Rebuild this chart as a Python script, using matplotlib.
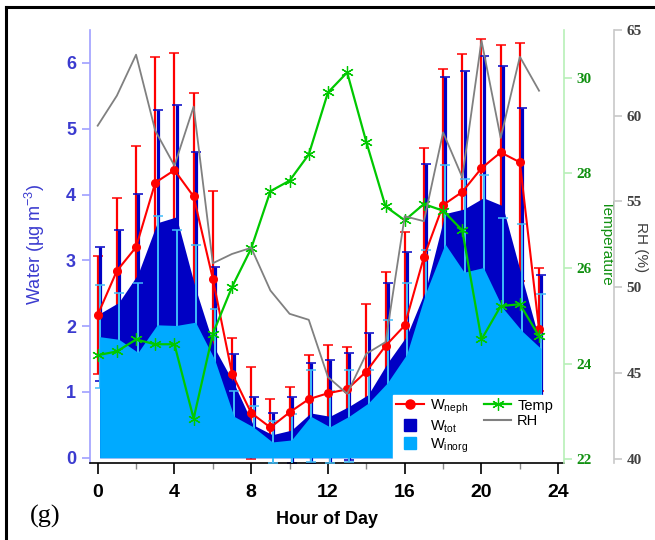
import numpy as np
import matplotlib
matplotlib.use("Agg")
import matplotlib.pyplot as plt
from matplotlib.lines import Line2D

hours = np.arange(24)

w_neph = [2.17, 2.84, 3.20, 4.18, 4.37, 3.97, 2.72, 1.28, 0.68, 0.46, 0.69, 0.89,
          0.98, 1.04, 1.31, 1.70, 2.01, 3.05, 3.84, 4.04, 4.40, 4.64, 4.49, 1.95]
w_neph_err = [0.90, 1.11, 1.54, 1.91, 1.78, 1.58, 1.33, 0.54, 0.70, 0.43, 0.39, 0.67,
              0.73, 0.65, 1.03, 1.12, 1.42, 1.66, 2.06, 2.10, 1.97, 1.63, 1.81, 0.93]
w_tot = [2.19, 2.36, 2.79, 3.57, 3.66, 2.57, 1.66, 1.13, 0.50, 0.35, 0.42, 0.68,
         0.63, 0.78, 0.96, 1.44, 1.85, 2.56, 3.71, 3.78, 3.95, 3.83, 2.75, 1.70]
w_tot_err = [1.02, 1.10, 1.22, 1.71, 1.70, 2.08, 1.24, 0.44, 0.42, 0.33, 0.50, 0.76,
             0.86, 0.81, 0.94, 1.22, 1.28, 1.90, 2.07, 2.09, 2.15, 2.12, 2.57, 1.08]
w_inorg = [1.84, 1.80, 1.60, 2.02, 2.01, 2.06, 1.49, 0.63, 0.47, 0.24, 0.27, 0.63,
           0.47, 0.63, 0.83, 1.14, 1.57, 2.51, 3.25, 2.82, 2.89, 2.28, 1.93, 1.66]
w_inorg_err = [0.78, 0.71, 1.06, 1.65, 1.45, 1.17, 0.77, 0.39, 0.32, 0.32, 0.40, 0.70,
               0.55, 0.70, 0.50, 0.96, 1.08, 0.65, 1.20, 1.41, 1.40, 1.36, 1.62, 0.83]
temp = [24.18, 24.26, 24.51, 24.41, 24.41, 22.85, 24.63, 25.61, 26.42, 27.62, 27.84, 28.39,
        29.69, 30.11, 28.65, 27.30, 27.01, 27.35, 27.21, 26.80, 24.51, 25.21, 25.25, 24.58]
rh = [59.42, 61.17, 63.56, 59.13, 57.09, 60.53, 51.40, 51.94, 52.30, 49.81, 48.45, 48.10,
      44.76, 43.79, 46.12, 46.80, 54.14, 53.85, 59.03, 56.41, 64.38, 58.71, 63.44, 61.46]

RED = "#FF0000"
DARK = "#0000C4"
LIGHT = "#00AAFF"
CYAN = "#40BDF8"
GREEN = "#00C800"
GRAY = "#808080"

fig = plt.figure(figsize=(6.55, 5.4), dpi=100)
W, H = 655, 540
ax_l, ax_r, ax_t, ax_b = 90, 564, 30, 463
ax = fig.add_axes([ax_l / W, 1 - ax_b / H, (ax_r - ax_l) / W, (ax_b - ax_t) / H])
ax2 = ax.twinx()
ax3 = ax.twinx()

off = 0.1
bar_off = 0.12
ax.errorbar(hours, w_neph, yerr=w_neph_err, fmt="none", ecolor=RED,
            elinewidth=1.6, capsize=3.3, capthick=1.1, zorder=1)
ax.errorbar(hours + bar_off, w_tot, yerr=w_tot_err, fmt="none", ecolor=DARK,
            elinewidth=2.3, capsize=3.3, capthick=1.1, zorder=1.5)
ax.fill_between(hours + off, 0, w_tot, color=DARK, lw=0, zorder=2)
ax.errorbar(hours + bar_off, w_inorg, yerr=w_inorg_err, fmt="none", ecolor=CYAN,
            elinewidth=1.4, capsize=3.3, capthick=1.1, zorder=3)
ax.fill_between(hours + off, 0, w_inorg, color=LIGHT, lw=0, zorder=4)
ax.plot(hours, w_neph, color=RED, lw=1.5, marker="o", ms=5.5, zorder=6)

ax2.plot(hours, temp, color=GREEN, lw=1.6, marker=(6, 2, 0), ms=9, mew=0.9, zorder=5)
ax3.plot(hours, rh, color=GRAY, lw=1.3, zorder=5)

ax.set_xlim(-0.4, 24.3)
ax.set_ylim(-0.08, 6.5)
ax2.set_ylim(21.92, 31.0)
ax3.set_ylim(39.75, 65.0)

# spines
for a in (ax, ax2, ax3):
    a.spines["top"].set_visible(False)
ax.spines["right"].set_visible(False)
ax2.spines["left"].set_visible(False)
ax3.spines["left"].set_visible(False)
ax2.spines["bottom"].set_visible(False)
ax3.spines["bottom"].set_visible(False)
ax.spines["left"].set_color("#A0A0FF")
ax.spines["bottom"].set_color("black")
ax2.spines["right"].set_color("#B8F0B8")
ax3.spines["right"].set_color("#C8C8C8")
ax3.spines["right"].set_position(("axes", (614 - ax_l) / (ax_r - ax_l)))
for a in (ax, ax2, ax3):
    for s in a.spines.values():
        s.set_linewidth(1.2)

narrow = ["Liberation Sans Narrow", "Liberation Sans", "DejaVu Sans"]
sans = ["Liberation Sans", "DejaVu Sans"]
serif = ["Liberation Serif", "DejaVu Serif"]

ax.set_xticks(np.arange(0, 25, 4))
ax.set_xticks(np.arange(2, 25, 4), minor=True)
ax.tick_params(axis="x", which="major", length=8, width=1.2, color="black", pad=7)
ax.tick_params(axis="x", which="minor", length=4, width=1.0, color="#888888")
for lab in ax.get_xticklabels():
    lab.set_fontfamily(narrow)
    lab.set_fontweight("bold")
    lab.set_fontsize(14)

ax.set_yticks(np.arange(0, 7, 1))
ax.tick_params(axis="y", length=6, width=1.2, color="#A0A0FF", labelcolor="#3B3BCF", pad=4)
for lab in ax.get_yticklabels():
    lab.set_fontfamily(sans)
    lab.set_fontweight("bold")
    lab.set_fontsize(13)

ax2.set_yticks(np.arange(22, 31, 2))
ax2.tick_params(axis="y", length=6, width=1.2, color="#B8F0B8", labelcolor="#109010", pad=3)
for lab in ax2.get_yticklabels():
    lab.set_fontfamily(serif)
    lab.set_fontweight("bold")
    lab.set_fontsize(11)

ax3.set_yticks(np.arange(40, 66, 5))
ax3.tick_params(axis="y", length=6, width=1.2, color="#C8C8C8", labelcolor="#404040", pad=3)
for lab in ax3.get_yticklabels():
    lab.set_fontfamily(serif)
    lab.set_fontweight("bold")
    lab.set_fontsize(11)

ax.set_ylabel("Water (µg m$^{\\mathregular{-3}}$)", color="#3B3BCF", fontsize=13,
              fontfamily=sans)
ax.yaxis.set_label_coords((47 - ax_l) / (ax_r - ax_l), (ax_b - 244) / (ax_b - ax_t))
ax2.set_ylabel("Temperature", color="#109010", fontsize=11, rotation=270,
               fontfamily=sans, va="center")
ax2.yaxis.set_label_coords((607 - ax_l) / (ax_r - ax_l), (ax_b - 243) / (ax_b - ax_t))
ax3.set_ylabel("RH (%)", color="#404040", fontsize=11, rotation=270,
               fontfamily=sans, va="center")
ax3.yaxis.set_label_coords((641 - ax_l) / (ax_r - ax_l), (ax_b - 247) / (ax_b - ax_t))

ax.set_xlabel("Hour of Day", fontsize=13, fontfamily=narrow, fontweight="bold", labelpad=7)

fig.text(45 / W, 1 - 516 / H, "(g)", fontsize=19, fontfamily=serif, ha="center", va="center")

handles = [
    Line2D([], [], color=RED, lw=1.5, marker="o", ms=6.5),
    Line2D([], [], color=DARK, ls="none", marker="s", ms=8.5),
    Line2D([], [], color=LIGHT, ls="none", marker="s", ms=8.5),
    Line2D([], [], color=GREEN, lw=1.6, marker=(6, 2, 0), ms=9, mew=0.9),
    Line2D([], [], color=GRAY, lw=1.5),
]
labels = ["W$_{\\mathregular{neph}}$", "W$_{\\mathregular{tot}}$", "W$_{\\mathregular{inorg}}$",
          "Temp", "RH"]
leg = ax3.legend(handles, labels, ncol=2, loc="lower right",
                 bbox_to_anchor=((556 - ax_l) / (ax_r - ax_l), (ax_b - 458) / (ax_b - ax_t)),
                 prop={"family": sans, "size": 10.5}, frameon=True, fancybox=False,
                 framealpha=1.0, edgecolor="white", facecolor="white",
                 borderpad=0.2, labelspacing=0.12, handlelength=1.9,
                 handletextpad=0.4, columnspacing=1.1, borderaxespad=0)
leg.set_zorder(20)

# panel frame
fig.add_artist(Line2D([6 / W, 1], [1 - 7 / H, 1 - 7 / H], color="black", lw=2.2,
                      transform=fig.transFigure))
fig.add_artist(Line2D([6 / W, 6 / W], [0, 1 - 7 / H], color="black", lw=2.2,
                      transform=fig.transFigure))

fig.savefig("out.png", dpi=100)
